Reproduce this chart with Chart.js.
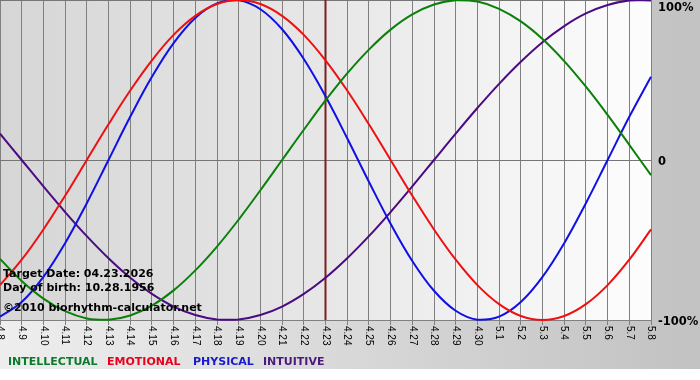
<!DOCTYPE html>
<html>
<head>
<meta charset="utf-8">
<script src="https://cdn.jsdelivr.net/npm/chart.js@4"></script>
<style>
  html, body { margin: 0; padding: 0; background: #fff; }
  #wrap { width: 700px; height: 380px; position: relative; }
</style>
</head>
<body>
<div id="wrap"><canvas id="bio" width="700" height="380"></canvas></div>
<script>
const days = ['4.8','4.9','4.10','4.11','4.12','4.13','4.14','4.15','4.16','4.17','4.18','4.19','4.20','4.21','4.22','4.23',
    '4.24','4.25','4.26','4.27','4.28','4.29','4.30','5.1','5.2','5.3','5.4','5.5','5.6','5.7','5.8'];
const intellectual = [-61.8,-75.6,-86.6,-94.5,-99.0,-99.9,-97.2,-91.0,-81.5,-69.0,-54.1,-37.2,-18.9,0,18.9,37.2,
    54.1,69.0,81.5,91.0,97.2,99.9,99.0,94.5,86.6,75.6,61.8,45.8,28.2,9.5,-9.5];
const emotional = [-78.2,-62.3,-43.4,-22.3,0,22.3,43.4,62.3,78.2,90.1,97.5,100,97.5,90.1,78.2,62.3,
    43.4,22.3,0,-22.3,-43.4,-62.3,-78.2,-90.1,-97.5,-100,-97.5,-90.1,-78.2,-62.3,-43.4];
const physical = [-97.9,-88.8,-73.1,-52.0,-27.0,0,27.0,52.0,73.1,88.8,97.9,99.8,94.2,81.7,63.1,39.8,
    13.6,-13.6,-39.8,-63.1,-81.7,-94.2,-99.8,-97.9,-88.8,-73.1,-52.0,-27.0,0,27.0,52.0];
const intuitive = [16.5,0,-16.5,-32.5,-47.6,-61.4,-73.6,-83.7,-91.6,-96.9,-99.7,-99.7,-96.9,-91.6,-83.7,-73.6,
    -61.4,-47.6,-32.5,-16.5,0,16.5,32.5,47.6,61.4,73.6,83.7,91.6,96.9,99.7,99.7];
const yTicks = [100, 0, -100];
const targetDay = '4.23';
const infoLines = ['Target Date: 04.23.2026', 'Day of birth: 10.28.1956', '\u00a92010 biorhythm-calculator.net'];

const legendItems = [
    {text: 'INTELLECTUAL', color: '#0b7a2b', x: 8},
    {text: 'EMOTIONAL', color: '#e8001c', x: 107},
    {text: 'PHYSICAL', color: '#1a1acc', x: 193},
    {text: 'INTUITIVE', color: '#4b1a7a', x: 263}
];

// backgrounds, target marker, rotated day labels, right labels, info text, legend
const decor = {
    id: 'decor',
    beforeDraw(chart) {
        const {ctx, chartArea: a, width, height} = chart;
        ctx.save();
        let g = ctx.createLinearGradient(0, 0, width, 0);
        g.addColorStop(0, '#eeeeee');
        g.addColorStop(1, '#c2c2c2');
        ctx.fillStyle = g;
        ctx.fillRect(0, 0, width, 369);
        ctx.fillStyle = '#ffffff';
        ctx.fillRect(0, 369, width, height - 369);
        g = ctx.createLinearGradient(a.left, 0, a.right, 0);
        g.addColorStop(0, '#d6d6d6');
        g.addColorStop(0.5, '#e7e7e7');
        g.addColorStop(1, '#fdfdfd');
        ctx.fillStyle = g;
        ctx.fillRect(a.left, a.top, a.right - a.left, a.bottom - a.top);
        ctx.restore();
    },
    beforeDatasetsDraw(chart) {
        const {ctx, chartArea: a, scales: {x}} = chart;
        const px = x.getPixelForValue(days.indexOf(targetDay));
        ctx.save();
        ctx.strokeStyle = '#7d1f1f';
        ctx.lineWidth = 2;
        ctx.beginPath();
        ctx.moveTo(px, a.top);
        ctx.lineTo(px, a.bottom);
        ctx.stroke();
        ctx.restore();
    },
    afterDraw(chart) {
        const {ctx, chartArea: a, scales: {x, y}} = chart;
        ctx.save();
        ctx.fillStyle = '#000';
        ctx.font = '10px "Liberation Sans", Arial, sans-serif';
        ctx.textAlign = 'left';
        ctx.textBaseline = 'middle';
        days.forEach((d, i) => {
            ctx.save();
            ctx.translate(x.getPixelForValue(i), a.bottom + 6);
            ctx.rotate(Math.PI / 2);
            ctx.fillText(d, 0, 0);
            ctx.restore();
        });

        ctx.font = 'bold 11.5px "DejaVu Sans", Verdana, sans-serif';
        yTicks.forEach(v => {
            let py = y.getPixelForValue(v);
            if (v === 100) py += 8;
            if (v === 0) py += 2;
            if (v === -100) py += 2;
            ctx.fillText(v === 0 ? '0' : v + '%', a.right + 7, py);
        });

        ctx.font = 'bold 11px "DejaVu Sans", Verdana, sans-serif';
        ctx.textBaseline = 'alphabetic';
        ctx.fillText(infoLines[0], 3, 277);
        ctx.fillText(infoLines[1], 3, 291);
        ctx.fillText(infoLines[2], 3, 311);

        ctx.textBaseline = 'middle';
        legendItems.forEach(it => {
            ctx.fillStyle = it.color;
            ctx.fillText(it.text, it.x, 362);
        });
        ctx.restore();
    }
};

const lineSet = (label, data, color) => ({
    label: label,
    data: data,
    borderColor: color,
    borderWidth: 2,
    fill: false,
    pointRadius: 0,
    tension: 0.4,
    clip: 3
});

new Chart(document.getElementById('bio').getContext('2d'), {
    type: 'line',
    data: {
        labels: days,
        datasets: [
            lineSet('INTELLECTUAL', intellectual, '#0a800a'),
            lineSet('EMOTIONAL', emotional, '#ee1010'),
            lineSet('PHYSICAL', physical, '#1010e6'),
            lineSet('INTUITIVE', intuitive, '#4b0a82')
        ]
    },
    options: {
        responsive: false,
        animation: false,
        layout: {padding: 0},
        plugins: {legend: {display: false}, tooltip: {enabled: false}},
        scales: {
            x: {
                offset: false,
                ticks: {display: false, autoSkip: false},
                grid: {color: '#808080', lineWidth: 1, tickLength: 5, drawTicks: true},
                border: {color: '#808080'},
                afterFit(scale) { scale.height = 60; }
            },
            y: {
                position: 'right',
                min: -100,
                max: 100,
                ticks: {display: false, stepSize: 100},
                grid: {color: '#767676', lineWidth: 1, drawTicks: false},
                border: {color: '#808080'},
                afterFit(scale) { scale.width = 49; }
            }
        }
    },
    plugins: [decor]
});
</script>
</body>
</html>
